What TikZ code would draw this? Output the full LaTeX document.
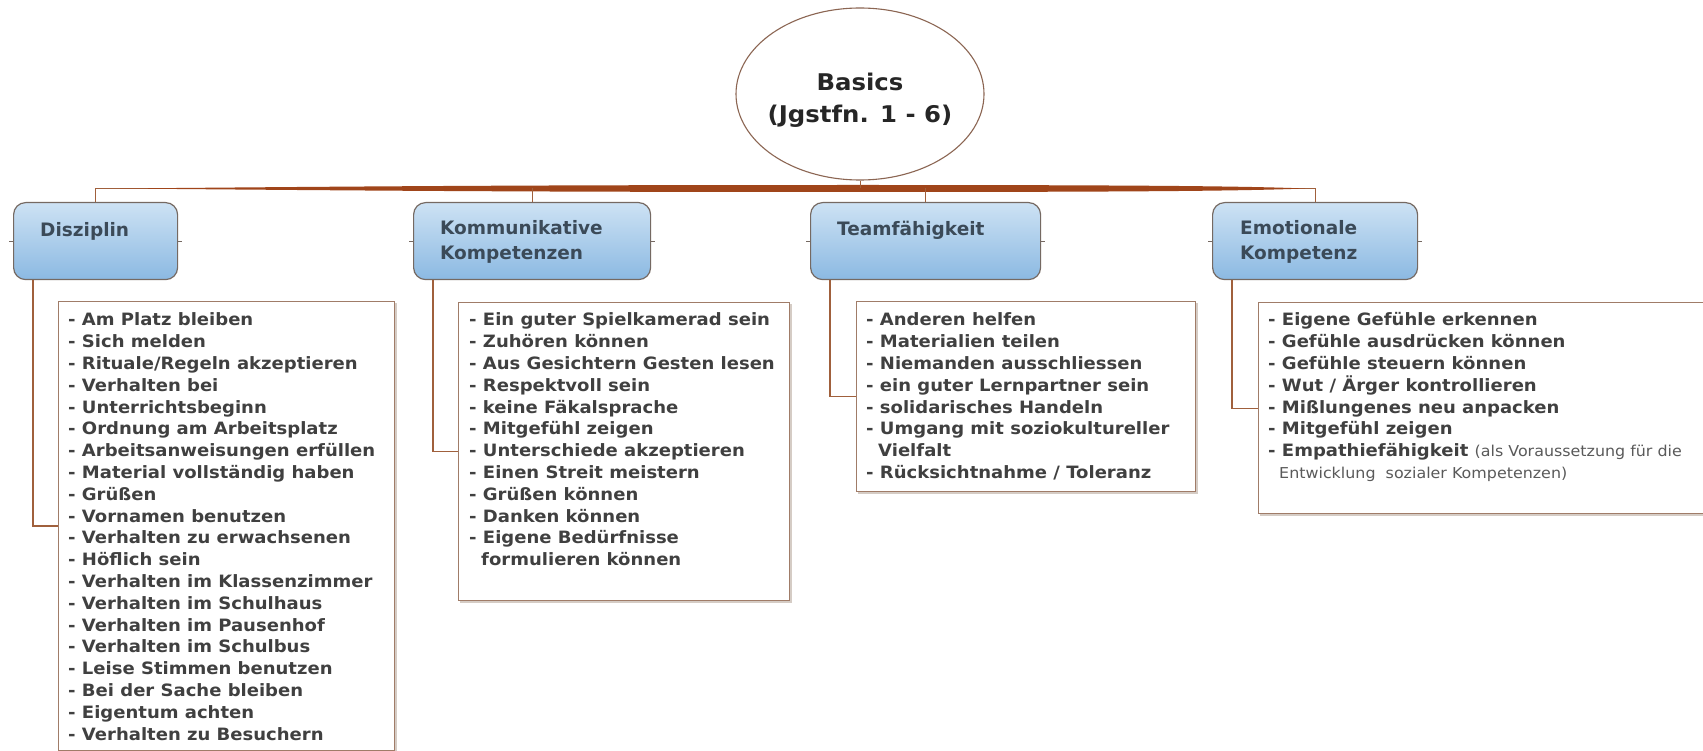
\documentclass[tikz,border=0pt]{standalone}
\usepackage{fontspec}
\setmainfont{DejaVu Sans}
\newfontfamily\cfont{DejaVu Sans}[FakeStretch=1.06]
\usetikzlibrary{shapes.geometric}
\definecolor{barcol}{HTML}{A0451A}
\definecolor{conncol}{HTML}{A0603C}
\definecolor{hdborder}{HTML}{756962}
\definecolor{hdtop}{HTML}{CDE2F4}
\definecolor{hdbot}{HTML}{8BB9E2}
\definecolor{hdtextcol}{HTML}{3B4A58}
\definecolor{cborder}{HTML}{A07C68}
\definecolor{cshadow}{HTML}{D5CCC5}
\definecolor{ctextcol}{HTML}{404040}
\definecolor{lighttext}{HTML}{5A5A5A}
\definecolor{rootborder}{HTML}{8B6552}
\begin{document}
\begin{tikzpicture}[x=1pt,y=-1pt,
  conn/.style={draw=conncol, line width=1.3pt},
  stub/.style={draw=hdborder, line width=1pt},
  hdbox/.style={draw=hdborder, line width=1.2pt, rounded corners=12pt, top color=hdtop, bottom color=hdbot, inner sep=0pt, anchor=north west, minimum height=77pt},
  hdtext/.style={font=\bfseries\fontsize{18.5}{25}\selectfont, text=hdtextcol, inner sep=0pt, anchor=base west},
  cbox/.style={draw=cborder, fill=white, line width=1.3pt, inner sep=0pt, anchor=north west},
  ctext/.style={font=\cfont\bfseries\fontsize{17}{21.8}\selectfont, text=ctextcol, inner sep=0pt, anchor=base west},
  rootnode/.style={ellipse, draw=rootborder, line width=1.1pt, fill=white, minimum width=248pt, minimum height=172pt, inner sep=0pt},
  roottext/.style={align=center, inner sep=0pt, font=\cfont\bfseries\fontsize{23}{32}\selectfont, text=black!85}
]
\useasboundingbox (0,0) rectangle (1703,751);
\fill[white] (0,0) rectangle (1703,751);

% root
\node[rootnode] (root) at (860,94) {};
\node[roottext] (roottxt) at (860,100) {Basics\\(Jgstfn. 1 - 6)};
\coordinate (bar) at (860,188.5);

% headers
\node[hdbox, minimum width=164pt] (h1) at (13,202) {};
\node[hdbox, minimum width=237pt] (h2) at (413,202) {};
\node[hdbox, minimum width=230pt] (h3) at (810,202) {};
\node[hdbox, minimum width=205pt] (h4) at (1212,202) {};

\node[hdtext] (h1t) at (40,236.5) {Disziplin};
\node[hdtext] (h2t) at (440,235) {\parbox[t]{200pt}{Kommunikative\\Kompetenzen}};
\node[hdtext] (h3t) at (837,236) {Teamfähigkeit};
\node[hdtext] (h4t) at (1240,235) {\parbox[t]{170pt}{Emotionale\\Kompetenz}};

% bar
\draw[conn, line width=1pt] (h1.north |- bar) -- (h4.north |- bar);
\fill[barcol] (120,188.5) .. controls (400,186) and (550,185) .. (860,185)
  .. controls (1150,185) and (1250,186.3) .. (1305,188.5)
  .. controls (1250,190.7) and (1150,192) .. (860,192)
  .. controls (550,192) and (400,191) .. (120,188.5) -- cycle;
\draw[conn, line width=1pt] (root.south) -- (root.south |- bar);
\foreach \h in {h1,h2,h3,h4}{
  \draw[conn, line width=1.2pt] (\h.north |- bar) -- (\h.north);
  \draw[stub] (\h.west) -- ++(-4,0);
  \draw[stub] (\h.east) -- ++(4,0);
}

% content boxes (faint shadows first)
\fill[cshadow] (60,303) rectangle (396.5,752);
\fill[cshadow] (460,304) rectangle (791.5,602.5);
\fill[cshadow] (858,303) rectangle (1197.5,493.5);
\fill[cshadow] (1260,304) rectangle (1720,515.5);
\node[cbox, minimum width=336pt, minimum height=448.5pt] (c1) at (58,301) {};
\node[cbox, minimum width=331pt, minimum height=298pt] (c2) at (458,302) {};
\node[cbox, minimum width=339pt, minimum height=190pt] (c3) at (856,301) {};
\node[cbox, minimum width=460pt, minimum height=211pt] (c4) at (1258,302) {};

\draw[conn] ([xshift=20pt]h1.south west) |- (c1.west);
\draw[conn] ([xshift=20pt]h2.south west) |- (c2.west);
\draw[conn] ([xshift=20pt]h3.south west) |- (c3.west);
\draw[conn] ([xshift=20pt]h4.south west) |- (c4.west);

\node[ctext] (c1t) at (68,326) {\parbox[t]{330pt}{%
- Am Platz bleiben\\
- Sich melden\\
- Rituale/Regeln akzeptieren\\
- Verhalten bei\\
- Unterrichtsbeginn\\
- Ordnung am Arbeitsplatz\\
- Arbeitsanweisungen erfüllen\\
- Material vollständig haben\\
- Grüßen\\
- Vornamen benutzen\\
- Verhalten zu erwachsenen\\
- Höflich sein\\
- Verhalten im Klassenzimmer\\
- Verhalten im Schulhaus\\
- Verhalten im Pausenhof\\
- Verhalten im Schulbus\\
- Leise Stimmen benutzen\\
- Bei der Sache bleiben\\
- Eigentum achten\\
- Verhalten zu Besuchern}};

\node[ctext] (c2t) at (469,326) {\parbox[t]{320pt}{%
- Ein guter Spielkamerad sein\\
- Zuhören können\\
- Aus Gesichtern Gesten lesen\\
- Respektvoll sein\\
- keine Fäkalsprache\\
- Mitgefühl zeigen\\
- Unterschiede akzeptieren\\
- Einen Streit meistern\\
- Grüßen können\\
- Danken können\\
- Eigene Bedürfnisse\\
\hspace*{12pt}formulieren können}};

\node[ctext] (c3t) at (866,326) {\parbox[t]{330pt}{%
- Anderen helfen\\
- Materialien teilen\\
- Niemanden ausschliessen\\
- ein guter Lernpartner sein\\
- solidarisches Handeln\\
- Umgang mit soziokultureller\\
\hspace*{12pt}Vielfalt\\
- Rücksichtnahme / Toleranz}};

\node[ctext] (c4t) at (1268,326) {\parbox[t]{430pt}{%
- Eigene Gefühle erkennen\\
- Gefühle ausdrücken können\\
- Gefühle steuern können\\
- Wut / Ärger kontrollieren\\
- Mißlungenes neu anpacken\\
- Mitgefühl zeigen\\
- Empathiefähigkeit {\mdseries\fontsize{15}{21.8}\selectfont\color{lighttext}(als Voraussetzung für die}\\
\hspace*{11pt}{\mdseries\fontsize{15}{21.8}\selectfont\color{lighttext}Entwicklung\ \ sozialer Kompetenzen)}}};
\end{tikzpicture}
\end{document}
